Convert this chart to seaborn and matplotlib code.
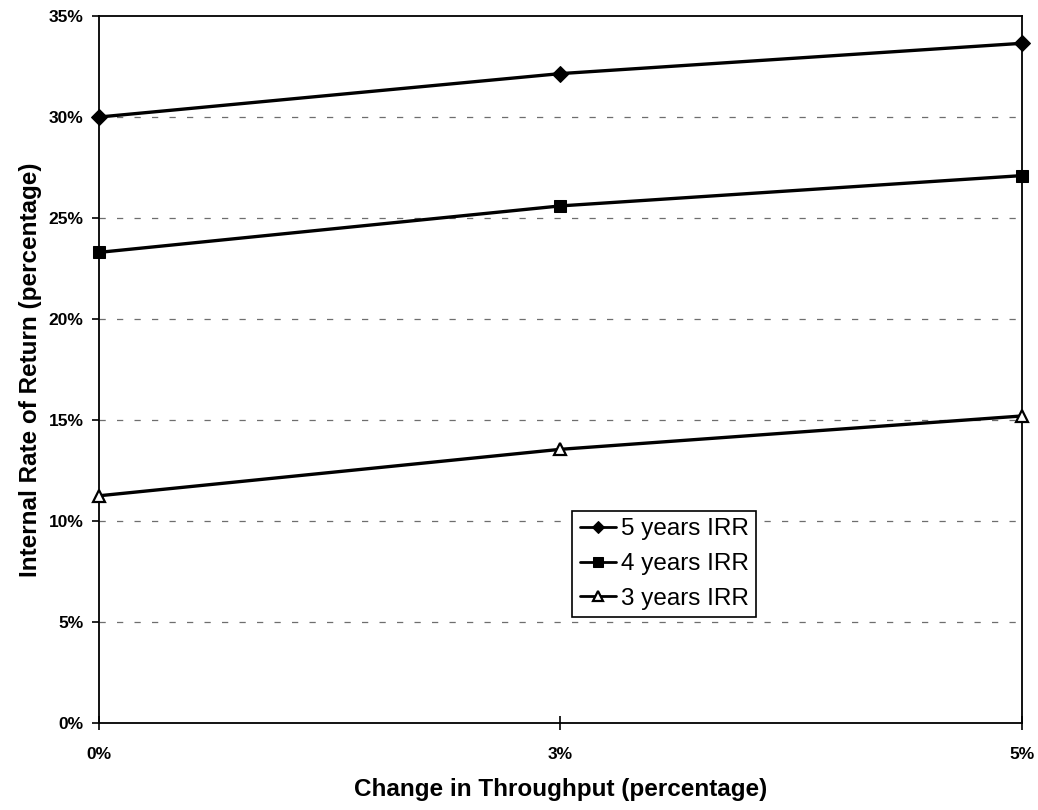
import matplotlib
matplotlib.use("Agg")
import matplotlib.pyplot as plt
import seaborn as sns
import pandas as pd

# Throughput change scenarios (categorical x axis)
throughput = ["0%", "3%", "5%"]

# Internal rate of return (%) for each payback horizon
irr_5yr = [30.0, 32.15, 33.65]
irr_4yr = [23.3, 25.6, 27.1]
irr_3yr = [11.25, 13.55, 15.2]

series_names = ["5 years IRR", "4 years IRR", "3 years IRR"]
y_ticks = [0, 5, 10, 15, 20, 25, 30, 35]

sns.set_theme(style="white")
plt.rcParams["font.family"] = ["Liberation Sans", "DejaVu Sans"]
plt.rcParams.update({"text.color": "black", "axes.labelcolor": "black",
                     "xtick.color": "black", "ytick.color": "black"})

fig = plt.figure(figsize=(10.38, 8.10), dpi=100)
ax = fig.add_axes([0.0954, 0.1074, 0.889, 0.8728])

# dashed horizontal reference lines
for v in y_ticks[1:-1]:
    ax.axhline(v, color="#6e6e6e", lw=0.9, ls=(0, (5, 9)), zorder=0)

styles = [
    dict(marker="D", markersize=8, markerfacecolor="black"),
    dict(marker="s", markersize=8.5, markerfacecolor="black"),
    dict(marker="^", markersize=8.5, markerfacecolor="white", markeredgewidth=1.6),
]
for name, vals, st in zip(series_names, [irr_5yr, irr_4yr, irr_3yr], styles):
    df = pd.DataFrame({"Throughput": throughput, "IRR": vals})
    sns.lineplot(data=df, x="Throughput", y="IRR", ax=ax, color="black",
                 linewidth=2.4, markeredgecolor="black", label=name,
                 clip_on=False, zorder=3, **st)

ax.set_xlim(0, 2)
ax.set_ylim(0, 35)
ax.set_yticks(y_ticks)
ax.set_yticklabels([f"{t}%" for t in y_ticks])
ax.set_xticks(range(len(throughput)))
ax.set_xticklabels(throughput)

for s in ax.spines.values():
    s.set_color("black")
    s.set_linewidth(1.3)

ax.tick_params(axis="y", direction="out", length=5, width=1.2, colors="black",
               left=True, labelsize=12.5, pad=6)
ax.tick_params(axis="x", direction="inout", length=10, width=1.2, colors="black",
               bottom=True, labelsize=12.5, pad=12)
for lab in ax.get_xticklabels() + ax.get_yticklabels():
    lab.set_fontweight("bold")

ax.set_xlabel("Change in Throughput (percentage)", fontsize=17.5, fontweight="bold",
              labelpad=12, color="black")
ax.set_ylabel("Internal Rate of Return (percentage)", fontsize=17.5, fontweight="bold",
              labelpad=5, color="black")

leg = ax.legend(loc="lower left", bbox_to_anchor=(0.513, 0.15), fontsize=17.5,
                frameon=True, fancybox=False, edgecolor="black", framealpha=1,
                handlelength=1.5, handletextpad=0.2, borderpad=0.3,
                labelspacing=0.52, borderaxespad=0)
leg.get_frame().set_linewidth(1.2)
for t in leg.get_texts():
    t.set_color("black")
for h in leg.get_lines():
    h.set_linewidth(2.0)
    h.set_markersize(6.5)

fig.savefig("out.png", dpi=100, facecolor="white")
